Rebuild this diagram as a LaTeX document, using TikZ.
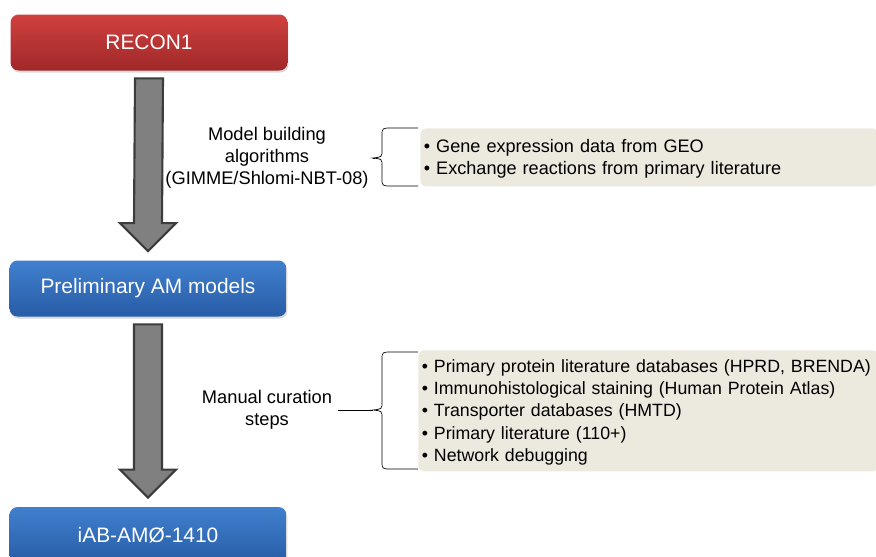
\documentclass[tikz,border=0pt]{standalone}
\usepackage{fontspec}
\setmainfont{Liberation Sans}
\usetikzlibrary{calc,shadows}

\definecolor{reconTop}{RGB}{208,64,64}
\definecolor{reconBot}{RGB}{160,40,40}
\definecolor{modelTop}{RGB}{64,128,206}
\definecolor{modelBot}{RGB}{40,92,166}
\definecolor{noteFill}{RGB}{236,233,222}
\definecolor{arrowFill}{RGB}{128,128,128}
\definecolor{arrowEdge}{RGB}{60,60,60}

\begin{document}
\begin{tikzpicture}[x=0.02cm,y=-0.02cm,
    stepbox/.style={rounded corners=0.16cm,minimum width=5.54cm,minimum height=1.12cm,
        text=white,font=\fontsize{11.9}{14}\selectfont,
        drop shadow={shadow xshift=0.02cm,shadow yshift=-0.04cm,opacity=0.3}},
    redbox/.style={stepbox,top color=reconTop,bottom color=reconBot},
    bluebox/.style={stepbox,top color=modelTop,bottom color=modelBot},
    notebox/.style={fill=noteFill,rounded corners=0.12cm,align=left,anchor=north west,
        inner xsep=0.07cm,inner ysep=0.12cm,font=\fontsize{10.3}{12.6}\selectfont},
    label/.style={align=center,font=\fontsize{10.4}{12.4}\selectfont},
    bigarrow/.style={fill=arrowFill,draw=arrowEdge,line width=1.2pt,line join=miter}]
  \useasboundingbox (0,0) rectangle (876,556);

  \node[redbox] (recon) at (149,42.5) {RECON1};
  \node[bluebox] (prelim) at (148,288.5) {Preliminary AM models};
  \node[bluebox] (final) at (148,535) {iAB-AMØ-1410};

  % fat arrows between the steps
  \foreach \a/\b in {recon/prelim,prelim/final}
    \filldraw[bigarrow] ($(\a.south)+(-14,7.5)$) -- ($(\b.north)+(-14,-37)$)
      -- ($(\b.north)+(-28,-37)$) -- ($(\b.north)+(0,-9)$)
      -- ($(\b.north)+(28,-37)$) -- ($(\b.north)+(14,-37)$)
      -- ($(\a.south)+(14,7.5)$) -- cycle;

  % first step
  \node[label] (build) at (267,158) {Model building\\algorithms\\(GIMME/Shlomi-NBT-08)};
  \node[notebox,text width=9.02cm,minimum height=1.16cm] (geo) at (420,128)
    {\strut• Gene expression data from GEO\\• Exchange reactions from primary literature};
  \coordinate (cusp1) at (373,158);
  \draw[thin] (build.east) -- (cusp1);
  \draw[thin] (418,128) -- (392,128) .. controls (382,128) .. (382,136) -- (382,150)
    .. controls (382,157) .. (cusp1) .. controls (382,159) .. (382,166) -- (382,178)
    .. controls (382,186) .. (392,186) -- (418,186);

  % second step
  \node[label] (manual) at (267,410) {Manual curation\\steps};
  \node[notebox,text width=9.06cm,minimum height=2.42cm,
        font=\fontsize{10.1}{12.7}\selectfont] (curate) at (418,350)
    {\strut\mbox{• Primary protein literature databases (HPRD, BRENDA)}\\
     • Immunohistological staining (Human Protein Atlas)\\
     • Transporter databases (HMTD)\\
     • Primary literature (110+)\\
     • Network debugging};
  \coordinate (cusp2) at (373,410);
  \draw[thin] (manual.east) -- (cusp2);
  \draw[thin] (418,352) -- (392,352) .. controls (382,352) .. (382,360) -- (382,402)
    .. controls (382,409) .. (cusp2) .. controls (382,411) .. (382,418) -- (382,461)
    .. controls (382,469) .. (392,469) -- (418,469);
\end{tikzpicture}
\end{document}
